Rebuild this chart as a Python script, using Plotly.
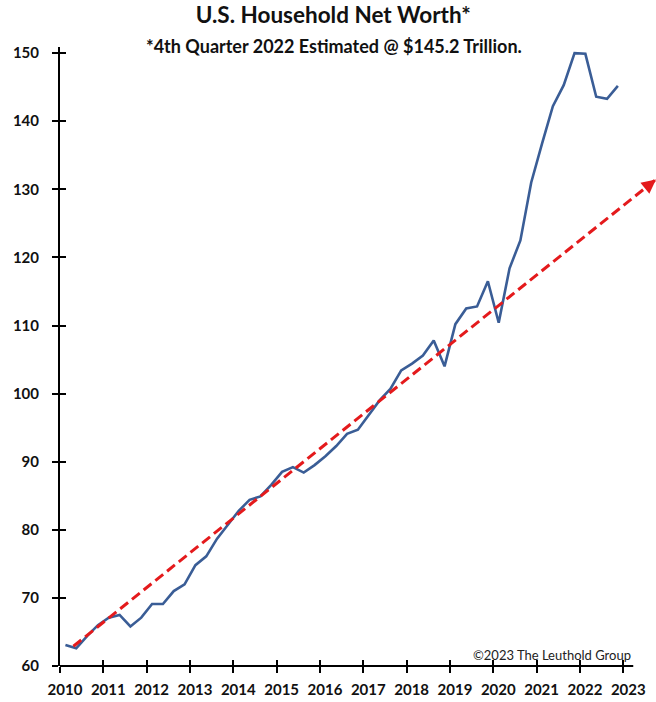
import plotly.graph_objects as go

# Quarterly U.S. household net worth, $ trillions (2010Q1 .. 2022Q4)
quarters = [f"{y}Q{q}" for y in range(2010, 2023) for q in range(1, 5)]
net_worth = [
    63.1, 62.6, 64.4, 66.0,
    67.1, 67.5, 65.8, 67.1,
    69.1, 69.1, 71.0, 72.0,
    74.8, 76.1, 78.7, 80.8,
    82.8, 84.4, 84.9, 86.6,
    88.5, 89.2, 88.4, 89.5,
    90.8, 92.3, 94.1, 94.7,
    96.8, 99.0, 100.7, 103.4,
    104.4, 105.6, 107.8, 104.0,
    110.2, 112.5, 112.8, 116.5,
    110.4, 118.4, 122.5, 131.0,
    136.7, 142.2, 145.3, 150.0,
    149.9, 143.6, 143.3, 145.2,
]

# Long-run trend arrow (start / tip), in years and $ trillions
trend_x = [2010.31, 2023.755]
trend_y = [62.9, 131.46]

year_ticks = list(range(2010, 2024))
value_ticks = list(range(60, 151, 10))


def quarter_mid(label):
    year, q = label.split("Q")
    return int(year) + (int(q) - 0.5) / 4


x_vals = [quarter_mid(q) for q in quarters]

BLUE = "#3A5D96"
RED = "#E41A1C"
FONT = "Lato"
X_RANGE = [2010, 2023.755]
Y_RANGE = [60, 150.9]

fig = go.Figure()

fig.add_trace(go.Scatter(
    x=x_vals, y=net_worth, mode="lines",
    line=dict(color=BLUE, width=2.6),
    hoverinfo="x+y", showlegend=False,
))

fig.add_trace(go.Scatter(
    x=trend_x, y=trend_y, mode="lines",
    line=dict(color=RED, width=3, dash="10px,5px"),
    xaxis="x2", yaxis="y2", hoverinfo="skip", showlegend=False,
))

# arrow head at the end of the trend line
frac = 0.985
fig.add_annotation(
    x=trend_x[1], y=trend_y[1], xref="x2", yref="y2",
    ax=trend_x[0] + frac * (trend_x[1] - trend_x[0]),
    ay=trend_y[0] + frac * (trend_y[1] - trend_y[0]),
    axref="x2", ayref="y2", text="", showarrow=True,
    arrowhead=2, arrowsize=0.95, arrowwidth=3, arrowcolor=RED, standoff=0,
)

tick_font = dict(family=FONT, size=15, color="#111111", weight="bold")

fig.update_layout(
    width=656, height=702,
    margin=dict(l=60, r=0, t=47, b=36),
    paper_bgcolor="white", plot_bgcolor="white",
    title=dict(
        text="<b>U.S. Household Net Worth*</b>",
        font=dict(family=FONT, size=22.5, color="#111111"),
        x=0.508, xref="container", xanchor="center",
        y=1 - 15 / 702, yref="container", yanchor="middle",
    ),
    xaxis=dict(
        range=X_RANGE, tickvals=year_ticks, ticktext=[str(y) for y in year_ticks],
        ticks="outside", ticklen=6, tickwidth=2, tickcolor="black",
        showline=False, showgrid=False, zeroline=False,
        tickfont=tick_font, ticklabelshift=5, ticklabelstandoff=4,
        fixedrange=True,
    ),
    yaxis=dict(
        range=Y_RANGE, tickvals=value_ticks,
        ticks="outside", ticklen=6, tickwidth=2, tickcolor="black",
        showline=True, linewidth=2, linecolor="black",
        showgrid=False, zeroline=False,
        tickfont=tick_font, ticklabelstandoff=10,
        fixedrange=True,
    ),
    xaxis2=dict(
        range=X_RANGE, overlaying="x", anchor="y2", side="bottom",
        tickvals=year_ticks, ticks="inside", ticklen=6, tickwidth=2,
        tickcolor="black", showticklabels=False, showline=False,
        showgrid=False, zeroline=False, fixedrange=True,
    ),
    yaxis2=dict(
        range=Y_RANGE, overlaying="y", anchor="x2", side="left",
        tickvals=value_ticks, ticks="inside", ticklen=6, tickwidth=2,
        tickcolor="black", showticklabels=False, showline=False,
        showgrid=False, zeroline=False, fixedrange=True,
    ),
    shapes=[dict(
        type="line", xref="x", yref="paper",
        x0=X_RANGE[0] - 0.02, x1=2023.23, y0=0, y1=0,
        line=dict(color="black", width=2), layer="above",
    )],
)

fig.add_annotation(
    text="<b>*4th Quarter 2022 Estimated @ $145.2 Trillion.</b>",
    xref="paper", yref="paper", x=(334 - 60) / 596, y=(666 - 46) / 619,
    xanchor="center", yanchor="middle", showarrow=False,
    font=dict(family=FONT, size=18, color="#111111"),
)

fig.add_annotation(
    text="\u00a92023 The Leuthold Group",
    xref="x", yref="paper", x=2023.22, y=11 / 619,
    xanchor="right", yanchor="middle", showarrow=False,
    font=dict(family=FONT, size=13, color="#222222"),
)

fig.write_html("out.html", config=dict(displayModeBar=False))
